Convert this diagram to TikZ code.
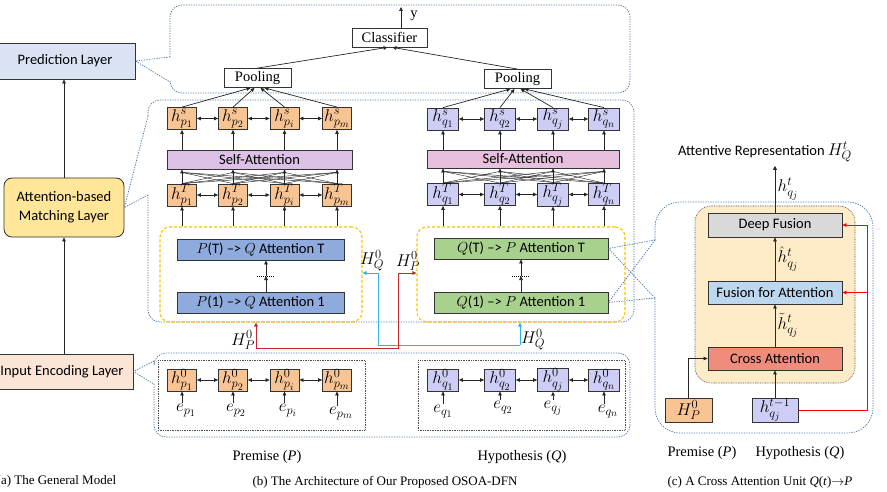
\documentclass[tikz,border=0pt]{standalone}
\usepackage{fix-cm}
\usepackage{fontspec}
\setmainfont{Liberation Serif}
\newfontfamily\calfont{Carlito}
\DeclareMathSizes{17}{17}{12.5}{10}
\DeclareMathSizes{14.5}{14.5}{11}{9}
\usetikzlibrary{arrows.meta,calc}
\definecolor{predc}{HTML}{DAE3F3}
\definecolor{attc}{HTML}{FFE699}
\definecolor{inpc}{HTML}{FBE5D6}
\definecolor{cblue}{HTML}{4A74A0}
\definecolor{yel}{HTML}{FFC000}
\definecolor{hpc}{HTML}{F8C494}
\definecolor{hqc}{HTML}{CDCDF5}
\definecolor{pac}{HTML}{8FAADC}
\definecolor{qac}{HTML}{A9D18E}
\definecolor{salc}{HTML}{DCC0E6}
\definecolor{sarc}{HTML}{E6C0DC}
\definecolor{dfc}{HTML}{D9D9D9}
\definecolor{ffc}{HTML}{BDD7EE}
\definecolor{cac}{HTML}{F08C7C}
\definecolor{panc}{HTML}{FEEBC8}
\definecolor{redl}{HTML}{C8282D}
\definecolor{cyl}{HTML}{2EB4E8}
\begin{document}
\begin{tikzpicture}[x=1pt,y=-1pt,
  lab/.style={font=\calfont\fontsize{14.5}{19}\selectfont},
  serif/.style={font=\fontsize{14.5}{17}\selectfont},
  capt/.style={font=\fontsize{13}{15}\selectfont},
  mth/.style={font=\fontsize{17}{19}\selectfont},
  box/.style={draw=black!80, line width=0.8pt, inner sep=0pt, align=center},
  hp/.style={box, fill=hpc, mth, minimum width=29, minimum height=22},
  hq/.style={box, fill=hqc, mth, minimum width=31, minimum height=22},
  arr/.style={-{Triangle[length=4pt,width=3.6pt]}, line width=0.7pt, draw=black!85},
  darr/.style={{Triangle[length=4pt,width=3.6pt]}-{Triangle[length=4pt,width=3.6pt]}, line width=0.7pt, draw=black!85},
  fan/.style={line width=0.45pt, draw=black!85},
  callout/.style={draw=cblue, line width=0.7pt, dash pattern=on 1.3pt off 1.2pt},
  ybox/.style={draw=yel, line width=1.1pt, dash pattern=on 3pt off 2pt, rounded corners=10, inner sep=0pt},
  dotbox/.style={draw=black!70, line width=0.6pt, dash pattern=on 0.8pt off 0.9pt, inner sep=0pt},
  redarr/.style={-{Triangle[length=4pt,width=3.6pt]}, line width=0.8pt, draw=redl},
  cyarr/.style={-{Triangle[length=4pt,width=3.6pt]}, line width=0.8pt, draw=cyl},
  rredarr/.style={-{Triangle[length=4pt,width=3.6pt]}, line width=0.8pt, draw=red},
]
\useasboundingbox (0,0) rectangle (887,492);

% ---------------- (a) general model ----------------
\node[box, fill=predc, lab, minimum width=140, minimum height=36] (pred) at (65,61) {Prediction Layer};
\node[box, fill=attc, lab, rounded corners=8, minimum width=120, minimum height=59] (attn) at (64,207.5) {Attention-based\\Matching Layer};
\node[box, fill=inpc, lab, minimum width=142, minimum height=35] (inp) at (62,371.5) {Input Encoding Layer};
\draw[arr] (attn.north) -- (attn.north |- pred.south);
\draw[arr] (attn.south |- inp.north) -- (attn.south);
\node[capt, anchor=west, inner sep=0pt] (capa) at (-3.5,481) {(a) The General Model};

% ---------------- callouts ----------------
\draw[callout, rounded corners=12] (170,57) -- (170,5) -- (630,5) -- (630,93) -- (170,93) -- (170,82);
\draw[callout] (170,57) -- (pred.east) -- (170,82);
\draw[callout, rounded corners=12] (148,116) -- (148,100) -- (634,100) -- (634,322) -- (148,322) -- (148,195);
\draw[callout] (148,116) -- (attn.east) -- (148,195);
\draw[callout, rounded corners=12] (154,361) -- (154,353) -- (630,353) -- (630,437) -- (154,437) -- (154,384);
\draw[callout] (154,361) -- (inp.east) -- (154,384);

% ---------------- (b) top ----------------
\node[box, serif, minimum width=75, minimum height=19] (cls) at (389.5,37.5) {Classifier};
\node[box, serif, minimum width=67, minimum height=19] (pl) at (257.5,78) {Pooling};
\node[box, serif, minimum width=67, minimum height=19] (pr) at (517.5,79) {Pooling};
\coordinate (yout) at (401,7);
\draw[arr] (cls.north -| yout) -- (yout);
\node[serif] (ylab) at (414,16) {y};
\draw[arr] (pl.north) -- ($(cls.south)+(-2,0)$);
\draw[arr] (pr.north) -- ($(cls.south)+(3,0)$);

% ---------------- (b) P side ----------------
\node[box, fill=salc, lab, minimum width=185, minimum height=19] (sal) at (259.5,159.5) {Self-Attention};
\foreach \i/\x/\s in {1/182/p_1,2/233/p_2,3/284.5/p_i,4/337/p_m}{
  \node[hp] (hsp\i) at (\x,118.5) {$h^{s}_{\s}$};
  \node[hp] (htp\i) at (\x,195) {$h^{T}_{\s}$};
  \node[hp] (h0p\i) at (\x,380) {$h^{0}_{\s}$};
}
\foreach \a/\b in {1/2,2/3,3/4}{
  \draw[darr] (hsp\a) -- (hsp\b);
  \draw[darr] (htp\a) -- (htp\b);
  \draw[darr] (h0p\a) -- (h0p\b);
}
\foreach \j in {1,...,4}{
  \draw[arr] (hsp\j.south |- sal.north) -- (hsp\j.south);
  \coordinate (fpl\j) at ($(hsp\j.south |- sal.south)+(0,3)$);
  \draw[arr] (fpl\j) -- (hsp\j.south |- sal.south);
  \foreach \i in {1,...,4}{ \draw[fan] (htp\i.north) -- (fpl\j); }
}
\foreach \i/\dx in {1/-7,2/-3,3/3,4/7}{
  \draw[arr] (hsp\i.north) -- ($(pl.south)+(\dx,0)$);
}

% ---------------- (b) Q side ----------------
\node[box, fill=sarc, lab, minimum width=192, minimum height=18] (sar) at (523,159) {Self-Attention};
\foreach \i/\x/\s in {1/443/q_1,2/500/q_2,3/553/q_j,4/604/q_n}{
  \node[hq] (hsq\i) at (\x,119) {$h^{s}_{\s}$};
  \node[hq] (htq\i) at (\x,194.5) {$h^{T}_{\s}$};
  \node[hq] (h0q\i) at (\x,380) {$h^{0}_{\s}$};
}
\foreach \a/\b in {1/2,2/3,3/4}{
  \draw[darr] (hsq\a) -- (hsq\b);
  \draw[darr] (htq\a) -- (htq\b);
  \draw[darr] (h0q\a) -- (h0q\b);
}
\foreach \j in {1,...,4}{
  \draw[arr] (hsq\j.south |- sar.north) -- (hsq\j.south);
  \coordinate (fql\j) at ($(hsq\j.south |- sar.south)+(0,3)$);
  \draw[arr] (fql\j) -- (hsq\j.south |- sar.south);
  \foreach \i in {1,...,4}{ \draw[fan] (htq\i.north) -- (fql\j); }
}
\foreach \i/\dx in {1/-7,2/-3,3/3,4/7}{
  \draw[arr] (hsq\i.north) -- ($(pr.south)+(\dx,0)$);
}

% ---------------- attention blocks ----------------
\node[ybox, minimum width=202, minimum height=95] (yl) at (261,274.5) {};
\node[ybox, minimum width=208, minimum height=95] (yr) at (521,274.5) {};
\node[box, fill=pac, lab, minimum width=167, minimum height=21] (paT) at (260.5,249.5) {$P$(T) –> $Q$ Attention T};
\node[box, fill=pac, lab, minimum width=167, minimum height=21] (pa1) at (260.5,302.5) {$P$(1) –> $Q$ Attention 1};
\node[box, fill=qac, lab, minimum width=174, minimum height=21] (qaT) at (521,248.5) {$Q$(T) –> $P$ Attention T};
\node[box, fill=qac, lab, minimum width=174, minimum height=21] (qa1) at (521,302.5) {$Q$(1) –> $P$ Attention 1};
\coordinate (pdots) at (266,276);
\coordinate (qdots) at (521,276);
\draw[arr] (pa1.north -| pdots) -- (pdots);
\draw[arr] (pdots) -- (paT.south -| pdots);
\draw[black, line width=0.6pt, dash pattern=on 1pt off 1pt] ($(pdots)+(-9,0)$) -- ($(pdots)+(9,0)$);
\draw[arr] (qa1.north -| qdots) -- (qdots);
\draw[arr] (qdots) -- (qaT.south -| qdots);
\draw[black, line width=0.6pt, dash pattern=on 1pt off 1pt] ($(qdots)+(-9,0)$) -- ($(qdots)+(9,0)$);
\foreach \j in {1,...,4}{
  \draw[arr] (htp\j.south |- yl.north) -- (htp\j.south);
  \draw[arr] (htq\j.south |- yr.north) -- (htq\j.south);
}

% ---------------- H^0 connections ----------------
\coordinate (rs) at (256,348);
\coordinate (rc1) at (398,348);
\coordinate (rc2) at (398,273);
\coordinate (cs) at (520,345);
\coordinate (cc1) at (378,345);
\coordinate (cc2) at (378,273);
\draw[cyarr] (cs) -- (cs |- yr.south);
\draw[cyarr] (cs) -- (cc1) -- (cc2) -- (yl.east |- cc2);
\draw[redarr] (rs) -- (rs |- yl.south);
\draw[redarr] (rs) -- (rc1) -- (rc2) -- (yr.west |- rc2);
\node[mth] (hq0a) at (372,261) {$H^{0}_{Q}$};
\node[mth] (hp0a) at (408,261) {$H^{0}_{P}$};
\node[mth] (hp0b) at (243,340) {$H^{0}_{P}$};
\node[mth] (hq0b) at (533,340) {$H^{0}_{Q}$};

% ---------------- input encoding ----------------
\node[dotbox, minimum width=207, minimum height=70] (inl) at (261.5,395) {};
\node[dotbox, minimum width=207, minimum height=70] (inr) at (521.5,395) {};
\foreach \i/\x/\s/\ly in {1/186/p_1/403,2/236/p_2/403,3/288/p_i/403,4/341/p_m/406}{
  \node[mth, anchor=north, inner sep=1pt] (ep\i) at (\x,\ly) {$e_{\s}$};
  \draw[arr] (h0p\i.south |- ep\i.north) -- (h0p\i.south);
}
\foreach \i/\x/\s/\ly in {1/443/q_1/404,2/503/q_2/400,3/553/q_j/400,4/608/q_n/404}{
  \node[mth, anchor=north, inner sep=1pt] (eq\i) at (\x,\ly) {$e_{\s}$};
  \draw[arr] (h0q\i.south |- eq\i.north) -- (h0q\i.south);
}
\node[serif] (prem) at (267,457) {Premise (\textit{P})};
\node[serif] (hyp) at (522,457) {Hypothesis (\textit{Q})};
\node[capt] (capb) at (385,482) {(b) The Architecture of Our Proposed OSOA-DFN};

% ---------------- (c) cross attention unit ----------------
\draw[callout, rounded corners=25] (655,240) -- (655,202) -- (873,202) -- (873,433) -- (655,433) -- (655,298);
\draw[callout] (655,240) -- (qaT.east);
\draw[callout] (655,240) -- (qa1.east);
\draw[callout] (655,298) -- (qa1.east);
\draw[callout] (655,298) -- (qaT.east);
\node[draw=black!70, line width=0.6pt, dash pattern=on 0.8pt off 0.9pt, fill=panc, rounded corners=16, minimum width=160, minimum height=177, inner sep=0pt] (cpan) at (775,294.5) {};
\node[box, fill=dfc, lab, minimum width=134, minimum height=24] (deep) at (775,225) {Deep Fusion};
\node[box, fill=ffc, lab, minimum width=134, minimum height=23] (fus) at (775,292.5) {Fusion for Attention};
\node[box, fill=cac, lab, minimum width=134, minimum height=23] (cross) at (775,358.5) {Cross Attention};
\node[box, fill=hpc, mth, minimum width=47, minimum height=24] (hpc0) at (688.5,410) {$H^{0}_{P}$};
\node[box, fill=hqc, mth, minimum width=46, minimum height=24] (hqt) at (775,410) {$h^{t-1}_{q_j}$};
\node[lab] (attrep) at (765,152) {Attentive Representation {\fontsize{17}{19}\selectfont$H^{t}_{Q}$}};
\draw[arr] (hpc0.north) |- (cross.west);
\draw[arr] (hqt.north) -- (cross.south);
\draw[arr] (cross.north) -- (fus.south) node[midway, right, mth, xshift=-1pt] (lt) {$\tilde{h}^{t}_{q_j}$};
\draw[arr] (fus.north) -- (deep.south) node[midway, right, mth, xshift=-1pt] (lh) {$\hat{h}^{t}_{q_j}$};
\draw[arr] (deep.north) -- (deep.north |- attrep.south) node[midway, right, mth, xshift=-1pt] (lo) {$h^{t}_{q_j}$};
\coordinate (rcx) at (867,225);
\draw[line width=0.8pt, draw=red] (hqt.east) -- (hqt.east -| rcx) -- (rcx);
\draw[rredarr] (rcx) -- (deep.east);
\draw[rredarr] (fus.east -| rcx) -- (fus.east);
\node[serif] (premc) at (702,453) {Premise (\textit{P})};
\node[serif] (hypc) at (800,453) {Hypothesis (\textit{Q})};
\node[capt] (capc) at (760,482) {(c) A Cross Attention Unit \textit{Q}(\textit{t})$\rightarrow$\textit{P}};
\end{tikzpicture}
\end{document}
